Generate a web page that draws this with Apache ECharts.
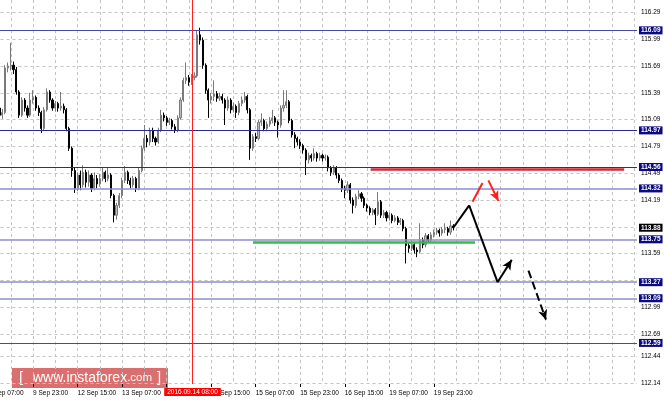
<!DOCTYPE html>
<html><head><meta charset="utf-8">
<script src="https://cdn.jsdelivr.net/npm/echarts@6/dist/echarts.min.js"></script>
<style>html,body{margin:0;padding:0;background:#fff}#c{width:664px;height:402px}</style>
</head><body><div id="c"></div><script>
// ---- DATA (H1 bars, index 0 = 9 Sep 07:00) ----
const opens  = [115.22,115.25,115.20,115.17,115.22,115.14,115.17,115.67,115.69,115.70,115.65,115.40,115.14,115.31,115.22,115.14,115.31,115.34,115.22,115.17,114.99,115.20,115.40,115.31,115.22,115.27,115.22,115.24,115.20,114.99,114.77,114.52,114.32,114.47,114.36,114.50,114.39,114.47,114.32,114.43,114.37,114.43,114.50,114.43,114.47,114.24,114.02,114.13,114.24,114.41,114.50,114.41,114.36,114.43,114.32,114.52,114.77,114.88,114.84,114.97,114.88,114.84,114.97,115.14,115.11,115.06,115.08,115.01,114.97,115.11,115.31,115.53,115.56,115.51,115.56,115.58,116.04,115.98,115.70,115.42,115.31,115.35,115.38,115.33,115.35,115.31,115.22,115.31,115.20,115.24,115.17,115.27,115.31,115.35,115.20,114.77,114.90,114.88,115.06,115.08,114.99,115.04,115.08,115.11,115.06,115.03,115.22,115.25,115.29,115.08,114.92,114.88,114.84,114.80,114.75,114.64,114.69,114.66,114.71,114.66,114.69,114.66,114.67,114.55,114.50,114.55,114.47,114.41,114.32,114.30,114.36,114.19,114.13,114.23,114.26,114.21,114.13,114.10,114.05,114.08,114.03,114.17,114.02,114.05,113.99,114.02,113.96,113.99,113.94,113.96,113.87,113.68,113.65,113.69,113.63,113.61,113.74,113.69,113.79,113.74,113.80,113.83,113.85,113.82,113.86,113.87,113.83,113.90];
const closes = [115.25,115.20,115.17,115.22,115.14,115.17,115.67,115.69,115.70,115.65,115.40,115.14,115.31,115.22,115.14,115.31,115.34,115.22,115.17,114.99,115.20,115.40,115.31,115.22,115.27,115.22,115.24,115.20,114.99,114.77,114.52,114.32,114.47,114.36,114.50,114.39,114.47,114.32,114.43,114.37,114.43,114.50,114.43,114.47,114.24,114.02,114.13,114.24,114.41,114.50,114.41,114.36,114.43,114.32,114.52,114.77,114.88,114.84,114.97,114.88,114.84,114.97,115.14,115.11,115.06,115.08,115.01,114.97,115.11,115.31,115.53,115.56,115.51,115.56,115.58,116.04,115.98,115.70,115.42,115.31,115.35,115.38,115.33,115.35,115.31,115.22,115.31,115.20,115.24,115.17,115.27,115.31,115.35,115.20,114.77,114.90,114.88,115.06,115.08,114.99,115.04,115.08,115.11,115.06,115.03,115.22,115.25,115.29,115.08,114.92,114.88,114.84,114.80,114.75,114.64,114.69,114.66,114.71,114.66,114.69,114.66,114.67,114.55,114.50,114.55,114.47,114.41,114.32,114.30,114.36,114.19,114.13,114.23,114.26,114.21,114.13,114.10,114.05,114.08,114.03,114.17,114.02,114.05,113.99,114.02,113.96,113.99,113.94,113.96,113.87,113.68,113.65,113.69,113.63,113.61,113.74,113.69,113.79,113.74,113.80,113.83,113.85,113.82,113.86,113.87,113.83,113.90,113.88];
const lows   = [115.18,115.16,115.12,115.14,115.10,115.10,115.15,115.62,115.64,115.60,115.37,115.11,115.12,115.18,115.11,115.12,115.27,115.19,115.13,114.94,114.97,115.18,115.28,115.19,115.18,115.18,115.19,115.16,114.96,114.74,114.45,114.27,114.29,114.30,114.33,114.33,114.34,114.28,114.30,114.32,114.34,114.40,114.39,114.40,114.21,113.94,113.97,114.10,114.21,114.38,114.37,114.32,114.33,114.28,114.30,114.50,114.74,114.78,114.80,114.84,114.80,114.82,114.95,115.07,115.02,115.03,114.98,114.94,114.95,115.09,115.29,115.49,115.47,115.48,115.53,115.56,115.93,115.66,115.38,115.11,115.27,115.30,115.29,115.30,115.27,115.03,115.19,115.16,115.17,115.11,115.14,115.24,115.28,115.16,114.64,114.74,114.84,114.86,115.02,114.96,114.96,115.01,115.05,115.02,114.89,115.00,115.18,115.22,115.05,114.89,114.77,114.80,114.76,114.71,114.47,114.60,114.62,114.63,114.62,114.63,114.62,114.63,114.51,114.46,114.47,114.43,114.38,114.28,114.21,114.27,114.15,114.04,114.10,114.20,114.17,114.10,114.06,114.02,114.02,113.91,114.01,113.99,113.99,113.95,113.96,113.93,113.94,113.91,113.91,113.84,113.48,113.60,113.62,113.59,113.55,113.59,113.65,113.66,113.71,113.72,113.77,113.80,113.78,113.79,113.82,113.79,113.80,113.85];
const highs  = [115.30,115.28,115.22,115.26,115.24,115.21,115.70,115.73,115.95,115.74,115.68,115.42,115.34,115.33,115.25,115.39,115.42,115.36,115.25,115.19,115.23,115.44,115.42,115.33,115.30,115.29,115.40,115.27,115.22,115.01,114.79,114.55,114.50,114.52,114.58,114.53,114.52,114.49,114.50,114.47,114.48,114.55,114.52,114.56,114.49,114.26,114.16,114.27,114.44,114.57,114.52,114.44,114.46,114.45,114.55,114.80,115.03,114.92,115.00,115.00,114.90,115.00,115.20,115.17,115.13,115.11,115.10,115.04,115.14,115.34,115.56,115.73,115.59,115.60,115.62,116.09,116.12,116.01,115.72,115.44,115.39,115.53,115.41,115.39,115.38,115.33,115.35,115.33,115.28,115.26,115.30,115.35,115.40,115.37,115.22,114.93,114.94,115.09,115.16,115.10,115.07,115.12,115.20,115.13,115.08,115.25,115.42,115.42,115.31,115.10,114.95,114.90,114.87,114.82,114.77,114.72,114.71,114.77,114.73,114.72,114.71,114.70,114.69,114.57,114.58,114.57,114.49,114.43,114.35,114.40,114.38,114.22,114.26,114.30,114.28,114.23,114.15,114.12,114.10,114.10,114.28,114.19,114.08,114.07,114.05,114.04,114.02,114.01,113.99,113.98,113.89,113.72,113.73,113.71,113.66,113.93,113.77,113.82,113.81,113.83,113.86,113.88,113.87,113.89,113.93,113.89,113.96,113.92];
const barCount = 234;
const startTimeUTC = Date.UTC(2016, 8, 9, 7);   // first bar: 9 Sep 07:00
const yTickValues  = [112.14,112.44,112.69,112.99,113.29,113.59,113.89,114.19,114.49,114.79,115.09,115.39,115.69,115.99,116.29];
const yLabelValues = [112.14,112.44,112.69,112.99,113.59,114.19,114.49,114.79,115.09,115.39,115.69,115.99,116.29];
const levelValues  = [116.09,114.97,114.56,114.32,113.75,113.27,113.09,112.59];
const levelLabels  = ['116.09','114.97','114.56','114.32','113.75','113.27','113.09','112.59'];
const currentPrice = 113.88;
const cursorIndex = 73.3;
const cursorLabel = '2016.09.14 08:00';
const resistanceLine = [[137.3, 114.54], [228.4, 114.54]];
const supportLine    = [[95.0, 113.72], [174.8, 113.72]];
const forecastPath   = [[167.0, 113.88], [172.7, 114.13], [182.9, 113.27], [188.0, 113.52]];
const altUpSegment   = [[173.9, 114.17], [177.5, 114.38]];
const altDownArrow   = [[179.6, 114.41], [183.2, 114.18]];
const furtherDown    = [[194.0, 113.40], [200.3, 112.85]];

// categories
const MON = ['Jan','Feb','Mar','Apr','May','Jun','Jul','Aug','Sep','Oct','Nov','Dec'];
const categories = [];
let t = startTimeUTC;
while (categories.length < barCount) {
  const d = new Date(t);
  const wd = d.getUTCDay();
  if (wd !== 0 && wd !== 6) {
    const hh = String(d.getUTCHours()).padStart(2, '0');
    categories.push(d.getUTCDate() + ' ' + MON[d.getUTCMonth()] + ' ' + hh + ':00');
  }
  t += 3600000;
}
const candleData = opens.map((o, i) => [o, closes[i], lows[i], highs[i]]);
const lastBar = opens.length - 1;

// ---- STYLES ----
const FONT = 'Liberation Sans';
const levelStyle = {
  '116.09': {c: '#4848a8', w: 1}, '114.97': {c: '#2a2a9c', w: 1}, '114.56': {c: '#2a2a9c', w: 1},
  '114.32': {c: '#8c8cd0', w: 1.5}, '113.75': {c: '#8c8cd0', w: 1.5}, '113.27': {c: '#8c8cd0', w: 1.5},
  '113.09': {c: '#8c8cd0', w: 1.5}, '112.59': {c: '#4848a8', w: 1}
};
const boxLabel = (txt, bg) => ({show: true, position: 'end', distance: 2, formatter: txt,
  color: '#fff', backgroundColor: bg, padding: [1, 2, 0, 2], fontSize: 6.5, fontFamily: FONT, fontWeight: 'bold'});

const levelMarks = levelValues.map((v, i) => ({
  yAxis: v,
  lineStyle: {color: levelStyle[levelLabels[i]].c, width: levelStyle[levelLabels[i]].w, type: 'solid'},
  label: boxLabel(levelLabels[i], '#0a0a82')
}));
levelMarks.push({yAxis: currentPrice, lineStyle: {color: 'rgba(0,0,0,0)', width: 1},
  label: boxLabel(currentPrice.toFixed(2), '#000')});
levelMarks.push({xAxis: cursorIndex, lineStyle: {color: '#ff2020', width: 1, type: 'solid'},
  label: {show: true, position: 'start', distance: 4, formatter: cursorLabel, color: '#fff',
    backgroundColor: '#ff0000', padding: [1, 3, 0, 3], fontSize: 6.5, fontFamily: FONT}});

function seg(p, q, color, width, type, arrow) {
  return [{coord: p, symbol: 'none', lineStyle: {color, width, type}},
          {coord: q, symbol: arrow ? 'arrow' : 'none', symbolSize: [7, 10]}];
}
const annot = [];
annot.push(seg(resistanceLine[0], resistanceLine[1], '#d42a3c', 2.5, 'solid', false));
annot.push(seg(supportLine[0], supportLine[1], '#2ec43a', 2.5, 'solid', false));
for (let i = 0; i < forecastPath.length - 1; i++) {
  annot.push(seg(forecastPath[i], forecastPath[i + 1], '#000', 2, 'solid', i === forecastPath.length - 2));
}
annot.push(seg(altUpSegment[0], altUpSegment[1], '#ff2020', 2, 'solid', false));
annot.push(seg(altDownArrow[0], altDownArrow[1], '#ff2020', 2, 'solid', true));
annot.push(seg(furtherDown[0], furtherDown[1], '#000', 2, [8, 4], true));

const chart = echarts.init(document.getElementById('c'), null, {renderer: 'canvas'});
chart.setOption({
  animation: false,
  backgroundColor: '#fff',
  grid: {left: -11.5, right: 27, top: 0, bottom: 18, containLabel: false, outerBoundsMode: 'none'},
  xAxis: [{
    type: 'category', data: categories, boundaryGap: false,
    axisLine: {show: false},
    axisTick: {show: true, length: 3, interval: (i) => i % 16 === 0 && i <= lastBar, lineStyle: {color: '#000'}},
    axisLabel: {interval: (i) => i % 16 === 0 && i !== 64 && i <= lastBar, align: 'left', margin: 6,
      color: '#000', fontSize: 6.5, fontFamily: FONT, hideOverlap: false},
    splitLine: {show: true, interval: (i) => i % 8 === 0, lineStyle: {color: '#c4c4c4', type: [3, 3], width: 1}}
  }, {
    type: 'value', min: 0, max: barCount - 1, show: false
  }],
  yAxis: {
    type: 'value', position: 'right', min: 112.13, max: 116.43, scale: true,
    axisLine: {show: true, lineStyle: {color: '#000', width: 1}},
    axisTick: {show: true, length: 3, customValues: yTickValues, lineStyle: {color: '#000'}},
    axisLabel: {customValues: yLabelValues, margin: 4, color: '#000', fontSize: 6.5, fontFamily: FONT,
      formatter: (v) => v.toFixed(2)},
    splitLine: {show: true, lineStyle: {color: '#c4c4c4', type: [3, 3], width: 1}}
  },
  series: [{
    type: 'line', xAxisIndex: 1, data: [[0, 112.13]], symbol: 'none', lineStyle: {opacity: 0}, z: 1,
    silent: true,
    markLine: {silent: true, symbol: 'none', animation: false, data: levelMarks}
  }, {
    type: 'candlestick', xAxisIndex: 0, data: candleData, barWidth: 1.6, z: 3,
    itemStyle: {color: '#bdbdbd', color0: '#000', borderColor: '#7a7a7a', borderColor0: '#000', borderWidth: 1}
  }, {
    type: 'line', xAxisIndex: 1, data: [[0, 112.13]], symbol: 'none', lineStyle: {opacity: 0}, z: 4,
    silent: true,
    markLine: {silent: true, symbol: 'none', animation: false, label: {show: false}, data: annot}
  }],
  graphic: [{
    type: 'group', left: 12, top: 368, z: 100,
    children: [
      {type: 'rect', shape: {x: 0, y: 0, width: 156, height: 20}, style: {fill: 'rgba(205,55,55,0.72)'}},
      {type: 'text', x: 7, y: 10, style: {text: '[', fill: '#fff', font: '15px "Liberation Sans"', verticalAlign: 'middle'}},
      {type: 'text', x: 21, y: 10, style: {text: '{a|www.instaforex}{b|.com}', verticalAlign: 'middle',
        rich: {a: {fill: '#fff', fontSize: 14, fontFamily: 'Liberation Sans'}, b: {fill: '#fff', fontSize: 11.5, fontFamily: 'Liberation Sans'}}}},
      {type: 'text', x: 145, y: 10, style: {text: ']', fill: '#fff', font: '15px "Liberation Sans"', verticalAlign: 'middle'}}
    ]
  }]
});
</script></body></html>
